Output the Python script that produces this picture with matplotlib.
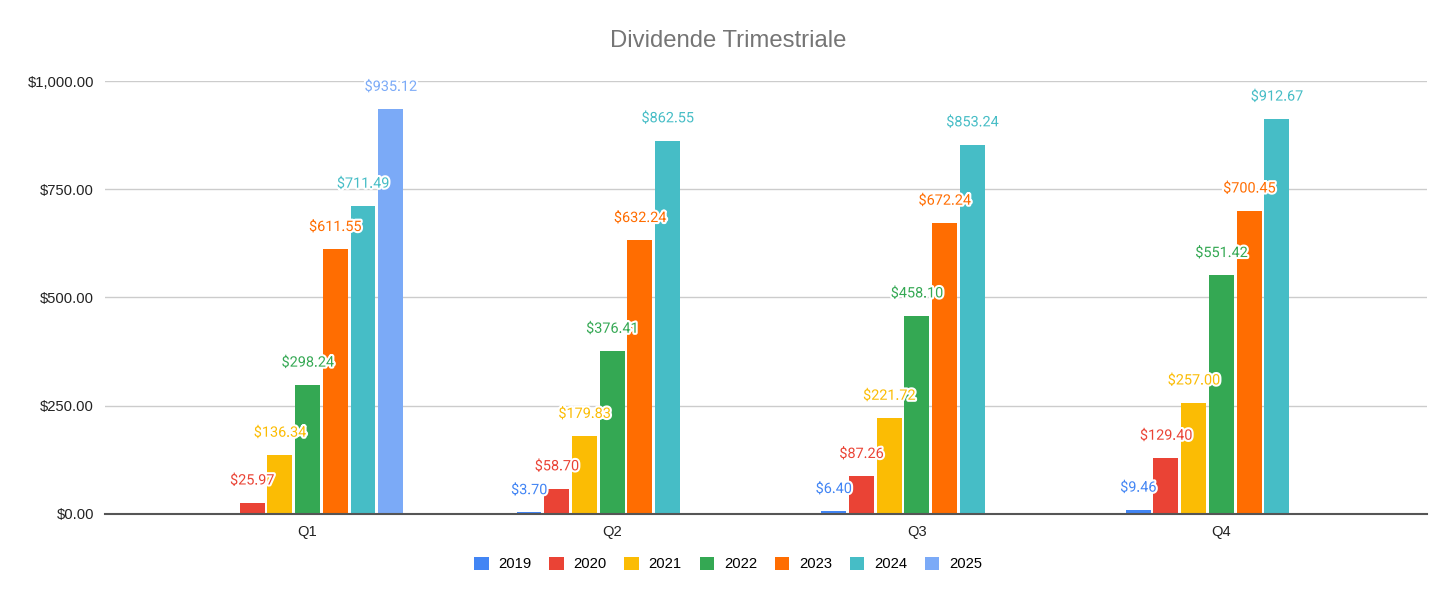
import numpy as np
import matplotlib.pyplot as plt
import matplotlib.patheffects as pe

quarters = ["Q1", "Q2", "Q3", "Q4"]
years = ["2019", "2020", "2021", "2022", "2023", "2024", "2025"]

# dividends per year, one value per quarter (nan = no payout)
d2019 = [np.nan, 3.70, 6.40, 9.46]
d2020 = [25.97, 58.70, 87.26, 129.40]
d2021 = [136.34, 179.83, 221.72, 257.00]
d2022 = [298.24, 376.41, 458.10, 551.42]
d2023 = [611.55, 632.24, 672.24, 700.45]
d2024 = [711.49, 862.55, 853.24, 912.67]
d2025 = [935.12, np.nan, np.nan, np.nan]

colors = ["#4285F4", "#EA4335", "#FBBC04", "#34A853", "#FF6D01", "#46BDC6", "#7BAAF7"]


def main():
    series = [d2019, d2020, d2021, d2022, d2023, d2024, d2025]
    x = np.arange(len(quarters))
    pitch = 0.091
    width = 0.082

    fig = plt.figure(figsize=(14.56, 6.01), dpi=100)
    ax = fig.add_axes([0.0721, 0.1448, 0.9080, 0.7204])

    for i, (year, vals, c) in enumerate(zip(years, series, colors)):
        pos = x + (i - 3) * pitch
        vals = np.array(vals, dtype=float)
        ax.bar(pos, np.nan_to_num(vals), width=width, color=c, label=year, zorder=3)
        for px, v in zip(pos, vals):
            if np.isnan(v):
                continue
            ax.annotate(f"${v:,.2f}", (px, v), xytext=(0, 16), textcoords="offset points",
                        ha="center", va="center", fontsize=10.4, family="Roboto",
                        color=c, zorder=5, annotation_clip=False,
                        path_effects=[pe.withStroke(linewidth=3, foreground="white")])

    ax.set_xlim(-0.665, 3.675)
    ax.set_ylim(0, 1000)
    ax.set_yticks([0, 250, 500, 750, 1000])
    ax.set_yticklabels([f"${v:,.2f}" for v in [0, 250, 500, 750, 1000]],
                       family="Liberation Sans", fontsize=10.6, color="#222222")
    ax.set_xticks(x)
    ax.set_xticklabels(quarters, family="Liberation Sans", fontsize=10.6, color="#222222")
    ax.tick_params(length=0)
    ax.tick_params(axis="y", pad=8)
    ax.tick_params(axis="x", pad=8)

    ax.grid(axis="y", color="#cccccc", linewidth=1, zorder=0)
    for s in ["top", "right", "left"]:
        ax.spines[s].set_visible(False)
    ax.spines["bottom"].set_color("#555555")
    ax.spines["bottom"].set_linewidth(1.5)
    ax.spines["bottom"].set_zorder(4)

    fig.text(0.5, 1 - 41 / 601, "Dividende Trimestriale", ha="center", va="center",
             family="Liberation Sans", fontsize=17.2, color="#757575")

    ax.legend(loc="center", bbox_to_anchor=(0.5, 1 - 564 / 601), bbox_transform=fig.transFigure,
              ncol=7, frameon=False, prop={"family": "Liberation Sans", "size": 10.6},
              handlelength=1.0, handleheight=1.0, handletextpad=0.65, columnspacing=1.2)

    plt.savefig("out.png", dpi=100)


if __name__ == "__main__":
    main()
